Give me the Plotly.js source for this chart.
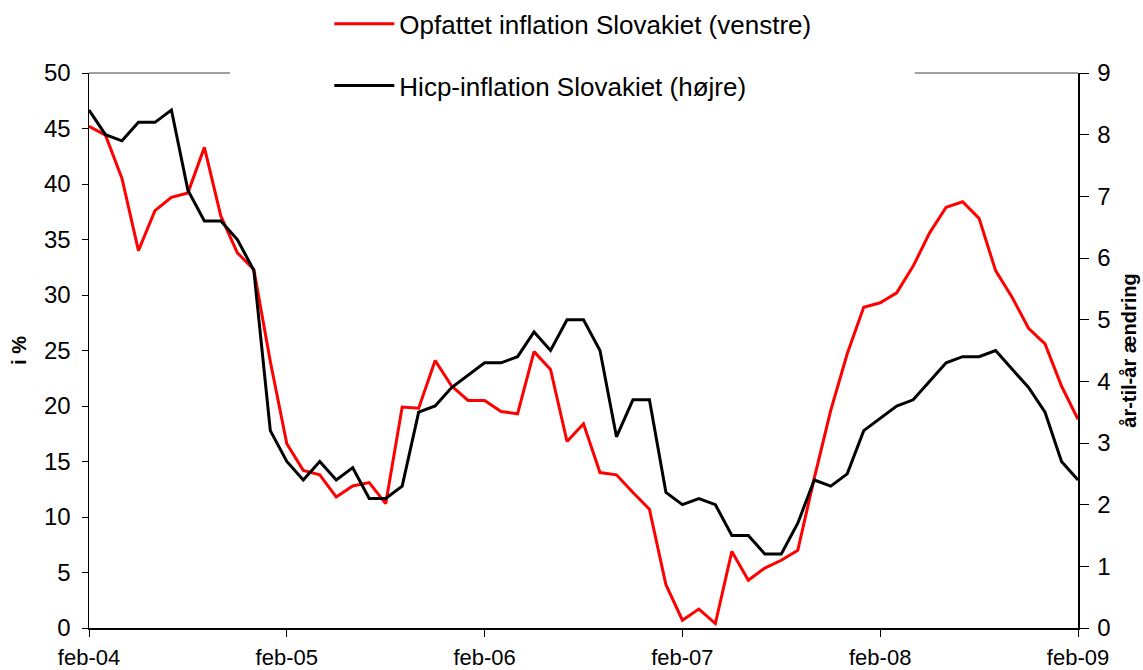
<!DOCTYPE html>
<html>
<head>
<meta charset="utf-8">
<script src="https://cdn.plot.ly/plotly-3.0.1.min.js"></script>
<style>html,body{margin:0;padding:0;background:#fff;}#chart{width:1143px;height:670px;}</style>
</head>
<body>
<div id="chart"></div>
<script>
// Month names (Danish) used to build category labels feb-04 .. feb-09
const monthNames = ["jan","feb","mar","apr","maj","jun","jul","aug","sep","okt","nov","dec"];
const months = [];
for (let i = 0; i <= 60; i++) {
  const m = (1 + i) % 12;
  const y = 4 + Math.floor((1 + i) / 12);
  months.push(monthNames[m] + "-" + String(y).padStart(2, "0"));
}
const tickLabels = ["feb-04","feb-05","feb-06","feb-07","feb-08","feb-09"];

// Opfattet inflation Slovakiet (venstre akse, i %)
const perceived = [45.2, 44.4, 40.5, 34.0, 37.6, 38.8, 39.2, 43.3, 37.1, 33.8, 32.3,
  24.0, 16.6, 14.2, 13.8, 11.8, 12.8, 13.1, 11.2, 19.9, 19.8,
  24.1, 21.8, 20.5, 20.5, 19.5, 19.3, 24.9, 23.3, 16.8, 18.4,
  14.0, 13.8, 12.2, 10.7, 3.9, 0.7, 1.7, 0.4, 6.9, 4.3,
  5.4, 6.1, 7.0, 13.5, 19.6, 24.7, 28.9, 29.3, 30.2, 32.6,
  35.6, 37.9, 38.4, 36.9, 32.2, 29.8, 27.0, 25.6, 21.8, 18.8];

// Hicp-inflation Slovakiet (højre akse, år-til-år ændring)
const hicp = [8.4, 8.0, 7.9, 8.2, 8.2, 8.4, 7.1, 6.6, 6.6, 6.3, 5.8,
  3.2, 2.7, 2.4, 2.7, 2.4, 2.6, 2.1, 2.1, 2.3, 3.5,
  3.6, 3.9, 4.1, 4.3, 4.3, 4.4, 4.8, 4.5, 5.0, 5.0,
  4.5, 3.1, 3.7, 3.7, 2.2, 2.0, 2.1, 2.0, 1.5, 1.5,
  1.2, 1.2, 1.7, 2.4, 2.3, 2.5, 3.2, 3.4, 3.6, 3.7,
  4.0, 4.3, 4.4, 4.4, 4.5, 4.2, 3.9, 3.5, 2.7, 2.4];

const FONT = "Liberation Sans, Arial, sans-serif";

const traces = [
  {x: months, y: perceived, type: "scatter", mode: "lines",
   name: "Opfattet inflation Slovakiet (venstre)", legendgroup: "a",
   line: {color: "#FF0000", width: 3}, yaxis: "y"},
  {x: months, y: hicp, type: "scatter", mode: "lines",
   name: "Hicp-inflation Slovakiet (højre)", legendgroup: "b",
   line: {color: "#000000", width: 3}, yaxis: "y2"}
];

const layout = {
  width: 1143, height: 670,
  margin: {l: 89, r: 65, t: 73, b: 42, autoexpand: false},
  paper_bgcolor: "#ffffff", plot_bgcolor: "#ffffff",
  font: {family: FONT, size: 20, color: "#000"},
  showlegend: true,
  legend: {x: 0.243, xanchor: "left", xref: "paper", y: 0.9995, yanchor: "top", yref: "container",
    bgcolor: "rgba(255,255,255,0)", font: {family: FONT, size: 26, color: "#000"},
    tracegroupgap: 25, itemwidth: 60, traceorder: "grouped"},
  xaxis: {type: "category", range: [0, 60], tickmode: "array", tickvals: tickLabels, ticktext: tickLabels,
    ticks: "outside", ticklen: 7, tickcolor: "#000", tickwidth: 1, ticklabelstandoff: 2,
    showline: true, linecolor: "#000", linewidth: 1.5, showgrid: false, zeroline: false,
    tickfont: {family: FONT, size: 22}, automargin: false},
  yaxis: {range: [0, 50], dtick: 5, tick0: 0, ticks: "outside", ticklen: 6, tickcolor: "#000",
    ticklabelstandoff: 6,
    showline: true, linecolor: "#000", linewidth: 1.5, showgrid: false, zeroline: false,
    tickfont: {family: FONT, size: 24}, automargin: false,
    title: {text: "<b>i %</b>", font: {family: FONT, size: 20}, standoff: 12}},
  yaxis2: {range: [0, 9], dtick: 1, tick0: 0, overlaying: "y", side: "right",
    ticks: "outside", ticklen: 9, tickcolor: "#000", ticklabelstandoff: 4,
    showline: true, linecolor: "#000", linewidth: 1.5, showgrid: false, zeroline: false,
    tickfont: {family: FONT, size: 24}, automargin: false,
    title: {text: "<b>år-til-år ændring</b>", font: {family: FONT, size: 20}, standoff: 12}},
  yaxis3: {range: [0, 9], dtick: 1, tick0: 0, overlaying: "y", side: "right", anchor: "x",
    ticks: "inside", ticklen: 9, tickcolor: "#000", showticklabels: false,
    showline: false, showgrid: false, zeroline: false, automargin: false},
  shapes: [
    {type: "line", xref: "paper", yref: "paper", x0: 0, x1: 0.1426, y0: 1, y1: 1,
     line: {color: "#808080", width: 1.5}},
    {type: "line", xref: "paper", yref: "paper", x0: 0.835, x1: 1, y0: 1, y1: 1,
     line: {color: "#808080", width: 1.5}}
  ]
};

Plotly.newPlot("chart", traces, layout, {displayModeBar: false, staticPlot: true});
</script>
</body>
</html>
